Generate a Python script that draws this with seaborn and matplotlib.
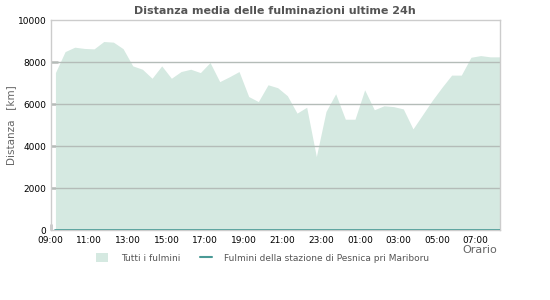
import matplotlib
matplotlib.use("Agg")
import matplotlib.pyplot as plt
import matplotlib.dates as mdates
import seaborn as sns
import pandas as pd
import numpy as np

# --- data ---
start_time = "2024-06-01 09:15"
all_strikes_km = [7500, 8500, 8710, 8650, 8630, 8980, 8950, 8640, 7820, 7660,
                  7230, 7820, 7230, 7550, 7660, 7500, 7980, 7070, 7300, 7550,
                  6360, 6120, 6920, 6780, 6400, 5570, 5850, 3500, 5650, 6490,
                  5280, 5280, 6680, 5730, 5920, 5880, 5770, 4820, 5500, 6180,
                  6800, 7380, 7380, 8230, 8310, 8250, 8250]
station_km = [0] * len(all_strikes_km)
y_ticks = [0, 2000, 4000, 6000, 8000, 10000]
title = "Distanza media delle fulminazioni ultime 24h"
label_all = "Tutti i fulmini"
label_station = "Fulmini della stazione di Pesnica pri Mariboru"

times = pd.date_range(start_time, periods=len(all_strikes_km), freq="30min")
df = pd.DataFrame({"time": times, "all": all_strikes_km, "station": station_km})

sns.set_theme(style="white")
plt.rcParams['font.family'] = ['DejaVu Sans']

fig = plt.figure(figsize=(5.5, 3.0), dpi=100)
ax = fig.add_axes([0.092, 0.233, 0.817, 0.7])

fill_color = "#d5e9e1"
line_color = "#4a9a96"

ax.fill_between(df["time"], 0, df["all"], color=fill_color, linewidth=0, zorder=1)
sns.lineplot(data=df, x="time", y="station", ax=ax, color=line_color,
             linewidth=1.2, zorder=3)

ax.set_ylim(0, 10000)
ax.set_yticks(y_ticks)
t0 = pd.Timestamp("2024-06-01 09:00")
ax.set_xlim(t0, times[-1])
ax.xaxis.set_major_locator(mdates.HourLocator(byhour=range(1, 24, 2)))
ax.xaxis.set_minor_locator(mdates.MinuteLocator(byminute=[0, 30]))
ax.xaxis.set_major_formatter(mdates.DateFormatter("%H:%M"))

for y in y_ticks[1:-1]:
    ax.axhline(y, color="#b4bcb8", linewidth=1, zorder=2)

for s in ax.spines.values():
    s.set_color("#cccccc")
    s.set_linewidth(1)

ax.tick_params(axis="x", which="major", direction="in", length=4, width=1,
               color="black", labelsize=6.5, labelcolor="black", pad=4)
ax.tick_params(axis="x", which="minor", direction="in", length=2, width=1, color="black")
ax.tick_params(axis="y", which="major", direction="in", length=5, width=1,
               color="black", labelsize=6.5, labelcolor="black", pad=3)
ax.tick_params(left=True, bottom=True, which="both")
ax.grid(False)
yt = ax.yaxis.get_major_ticks()
yt[-1].tick1line.set_visible(False)
yt[0].tick1line.set_visible(False)

ax.set_xlabel("")
ax.set_ylabel("")
fig.text(0.5, 0.965, title, ha="center", va="center", fontsize=8,
         fontweight="bold", color="#555555")
fig.text(0.02, 0.583, "Distanza   [km]", rotation=90, ha="center", va="center",
         fontsize=7.5, color="#666666")
fig.text(0.903, 0.167, "Orario", ha="right", va="center", fontsize=8, color="#666666")

from matplotlib.patches import Patch
from matplotlib.lines import Line2D
handles = [Patch(facecolor=fill_color, edgecolor="none"),
           Line2D([0], [0], color=line_color, linewidth=1.5)]
leg = fig.legend(handles, [label_all, label_station], loc="center",
                 bbox_to_anchor=(0.478, 0.14), ncol=2, frameon=False,
                 fontsize=6.5, handlelength=1.3, handleheight=1.0,
                 columnspacing=2.2, handletextpad=1.4)
for t in leg.get_texts():
    t.set_color("#555555")

fig.savefig("out.png", dpi=100)
